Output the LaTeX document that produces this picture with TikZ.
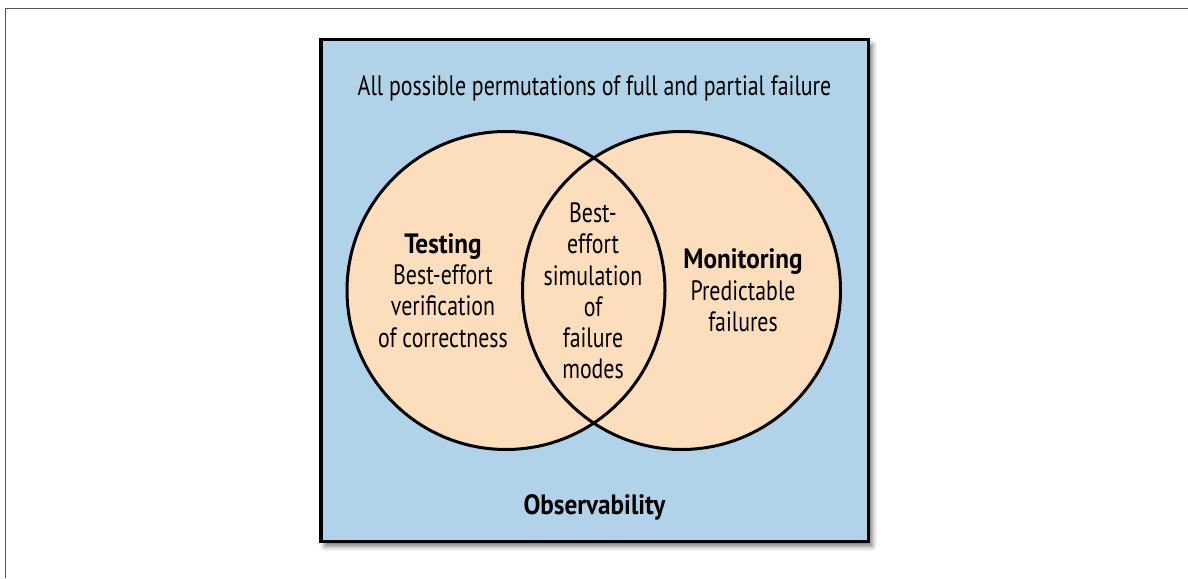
\documentclass[tikz,border=0pt]{standalone}
\usepackage{fontspec}
\setmainfont[FakeStretch=0.78, BoldFeatures={FakeStretch=0.9}]{PT Sans}
\usetikzlibrary{shadows.blur}
\definecolor{obsblue}{HTML}{B1D3EA}
\definecolor{peach}{HTML}{FDDEBC}
\definecolor{framegray}{HTML}{555555}
\tikzset{
  txt/.style={font=\fontsize{28}{31}\selectfont, anchor=base, inner sep=0pt},
  btxt/.style={txt, font=\fontsize{28}{31}\selectfont\bfseries},
  setc/.style={circle, inner sep=0pt, minimum size=318pt, fill=peach},
  ring/.style={line width=3pt, draw=black}
}
\begin{document}
\begin{tikzpicture}[x=1pt,y=-1pt]
\useasboundingbox (0,0) rectangle (1188,578);
\draw[framegray, line width=1.5pt] (1188,8.5) -- (5.5,8.5) -- (5.5,578);
\node[draw=black, line width=3.5pt, fill=obsblue, minimum width=547.5pt, minimum height=501.5pt, inner sep=0pt,
  blur shadow={shadow xshift=4pt, shadow yshift=-5pt, shadow blur radius=5pt, shadow opacity=55}] (box) at (594.5,290.5) {};
\node[setc] (testc) at (506,290.5) {};
\node[setc] (monc) at (681.5,290.5) {};
\draw[ring] (testc.center) circle[radius=159pt];
\draw[ring] (monc.center) circle[radius=159pt];
\node[txt] (all) at (594.5,95) {All possible permutations of full and partial failure};
\node[btxt] (t1) at (443,253) {Testing};
\node[txt] (t2) at (443,284) {Best-effort};
\node[txt] (t3) at (443,315) {verification};
\node[txt] (t4) at (443,347) {of correctness};
\node[txt] (l1) at (593,222) {Best-};
\node[txt] (l2) at (593,253) {effort};
\node[txt] (l3) at (593,285) {simulation};
\node[txt] (l4) at (593,316) {of};
\node[txt] (l5) at (593,347) {failure};
\node[txt] (l6) at (593,378) {modes};
\node[btxt] (m1) at (743,268) {Monitoring};
\node[txt] (m2) at (743,300) {Predictable};
\node[txt] (m3) at (743,331) {failures};
\node[btxt] (obs) at (594.5,514) {Observability};
\end{tikzpicture}
\end{document}
